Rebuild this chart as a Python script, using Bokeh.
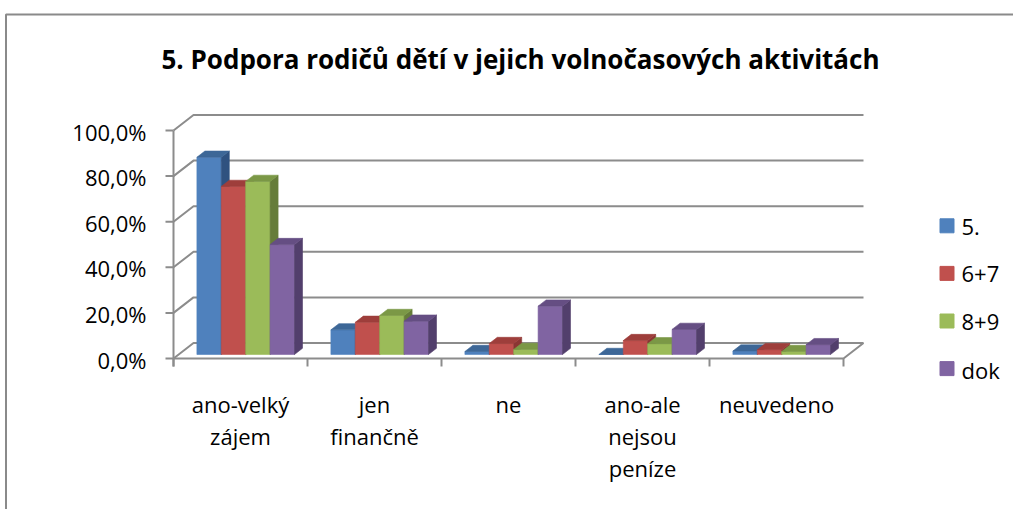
from bokeh.plotting import figure
from bokeh.models import Range1d, ColumnDataSource
from bokeh.core.properties import value
from bokeh.embed import file_html
from bokeh.resources import INLINE

# ---------------- data ----------------
title_text = "5. Podpora rodičů dětí v jejich volnočasových aktivitách"
categories = ["ano-velký\nzájem", "jen\nfinančně", "ne", "ano-ale\nnejsou\npeníze", "neuvedeno"]
series_names = ["5.", "6+7", "8+9", "dok"]
s_5 = [86.5, 10.8, 1.3, 0.0, 1.5]
s_67 = [73.7, 14.1, 4.8, 6.1, 2.1]
s_89 = [75.9, 17.1, 2.2, 4.7, 1.3]
s_dok = [48.2, 14.6, 21.2, 11.0, 4.3]
y_ticks = [0, 20, 40, 60, 80, 100]
y_tick_labels = ["0,0%", "20,0%", "40,0%", "60,0%", "80,0%", "100,0%"]

series_values = [s_5, s_67, s_89, s_dok]
front_colors = ["#4F81BD", "#C0504D", "#9BBB59", "#8064A2"]
top_colors = ["#3D6797", "#9E3E3B", "#7B9846", "#654E83"]
side_colors = ["#2F5280", "#8A3633", "#667C3A", "#523F6C"]

# ---------------- layout (pixels -> data scale) ----------------
W, H = 1013, 509
OFF = 0
X0 = 173.0       # screen x of the front value axis
CAT_PX = 134.0   # pixels per category
Y0 = 358.0       # screen y of 0 % on the front edge
PCT_PX = 2.28    # pixels per percent


def px_x(px):
    return px / CAT_PX


def px_y(px):
    return px / PCT_PX


x_range = Range1d((OFF - X0) / CAT_PX, (OFF + W - X0) / CAT_PX)
y_range = Range1d((Y0 - (OFF + H)) / PCT_PX, (Y0 - OFF) / PCT_PX)

p = figure(width=W, height=H, x_range=x_range, y_range=y_range,
           output_backend="svg", toolbar_location=None,
           x_axis_location=None, y_axis_location=None,
           min_border=0, outline_line_color=None)
p.xgrid.visible = False
p.ygrid.visible = False
p.background_fill_color = "white"
p.border_fill_color = "white"

n_cat = len(categories)
DX = px_x(20)      # depth of the 3D box
DY = px_y(15.5)
GRID_COLOR = "#8c8c8c"

# chart-area border
xl = px_x(5.5 - X0)
yt_b = px_y(Y0 - 14)
p.line([xl, xl, x_range.end + 1], [y_range.start - 5, yt_b, yt_b], line_color="#8a8a8a", line_width=2)

# back wall gridlines + slanted connectors
gx, gy = [], []
for t in y_ticks:
    gx.append([0, DX, n_cat + DX])
    gy.append([t, t + DY, t + DY])
# floor front edge and right side
gx.append([0, n_cat, n_cat + DX])
gy.append([0, 0, DY])
# value axis line and ticks
gx.append([0, 0])
gy.append([y_ticks[-1], -px_y(8)])
for t in y_ticks:
    gx.append([-px_x(8), 0])
    gy.append([t, t])
# category tick marks
for i in range(n_cat + 1):
    gx.append([i, i])
    gy.append([0, -px_y(8)])
p.multi_line(gx, gy, line_color=GRID_COLOR, line_width=2)

# ---------------- 3D bars ----------------
bw = px_x(24.4)
d0 = 0.26   # depth fraction of bar front face
dd = 0.40   # bar depth as fraction of box depth
ox, oy = dd * DX, dd * DY
xs, ys, cols = [], [], []
for i in range(n_cat):
    for j, vals in enumerate(series_values):
        v = vals[i]
        x1 = i + 0.5 - 2 * bw + j * bw + d0 * DX
        x2 = x1 + bw
        yb = d0 * DY
        yt = v + d0 * DY
        xs.append([x1, x2, x2, x1]); ys.append([yb, yb, yt, yt]); cols.append(front_colors[j])
        xs.append([x2, x2 + ox, x2 + ox, x2]); ys.append([yb, yb + oy, yt + oy, yt]); cols.append(side_colors[j])
        xs.append([x1, x2, x2 + ox, x1 + ox]); ys.append([yt, yt, yt + oy, yt + oy]); cols.append(top_colors[j])
bar_src = ColumnDataSource(dict(xs=xs, ys=ys, c=cols))
p.patches("xs", "ys", source=bar_src, fill_color="c", line_color="c", line_width=0.6)

# ---------------- texts ----------------
FONT = value("Open Sans")
# y tick labels
p.text(x=[px_x(146 - X0)] * len(y_ticks), y=[t - px_y(1) for t in y_ticks], text=y_tick_labels,
       text_font=FONT, text_font_size="22px", text_align="right", text_baseline="middle",
       text_color="black")

# category labels (multi-line)
lx, ly, lt = [], [], []
for i, c in enumerate(categories):
    for k, line in enumerate(c.split("\n")):
        lx.append(i + 0.5)
        ly.append(-px_y(45 + 32 * k))
        lt.append(line)
p.text(x=lx, y=ly, text=lt, text_font=FONT, text_font_size="22px",
       text_align="center", text_baseline="middle", text_color="black")

# title
p.text(x=[px_x(520 - X0)], y=[px_y(Y0 - 58)], text=[title_text], text_font=FONT,
       text_font_size="26px", text_font_style="bold", text_align="center",
       text_baseline="middle", text_color="black")

# legend
leg_y = [px_y(Y0 - (225.3 + 47.6 * k)) for k in range(len(series_names))]
p.scatter(x=[px_x(946.5 - X0)] * len(series_names), y=leg_y, marker="square", size=14,
          fill_color=front_colors, line_color=front_colors)
p.text(x=[px_x(961 - X0)] * len(series_names), y=[v - px_y(1) for v in leg_y], text=series_names,
       text_font=FONT, text_font_size="22px", text_align="left", text_baseline="middle",
       text_color="black")

open("out.html", "w").write(file_html(p, INLINE))
